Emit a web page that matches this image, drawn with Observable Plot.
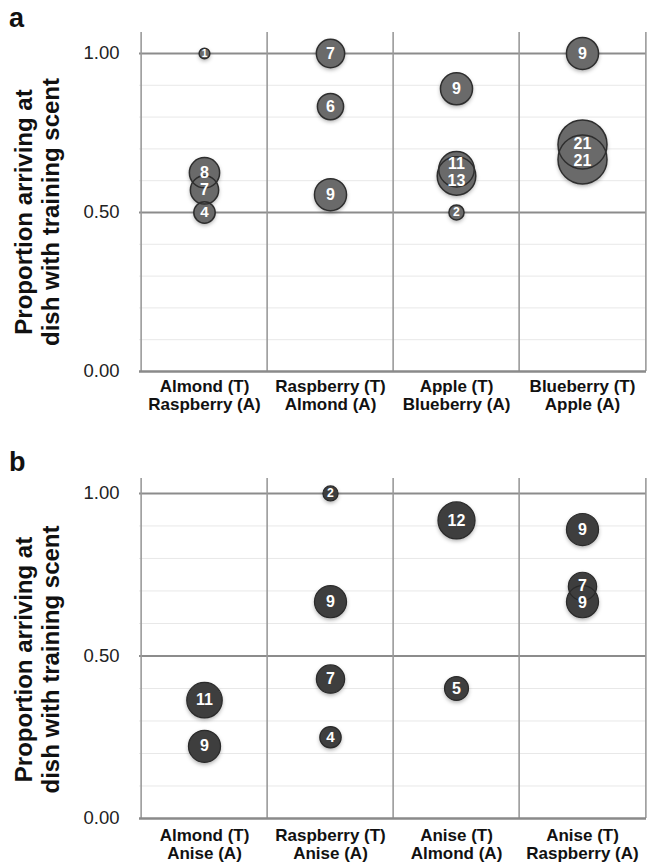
<!DOCTYPE html>
<html>
<head>
<meta charset="utf-8">
<script src="https://cdn.jsdelivr.net/npm/d3@7"></script>
<script src="https://cdn.jsdelivr.net/npm/@observablehq/plot@0.6"></script>
<style>
  html, body { margin: 0; padding: 0; background: #fff; }
  #wrap { position: relative; width: 649px; height: 866px; font-family: "Liberation Sans", Arial, sans-serif; }
  .plabel { position: absolute; font: bold 27px "Liberation Sans", Arial, sans-serif; line-height: 27px; color: #111; }
  .panel { position: absolute; left: 0; }
</style>
</head>
<body>
<div id="wrap">
  <div class="panel" id="pa" style="top:0"></div>
  <div class="panel" id="pb" style="top:425px"></div>
  <div class="plabel" style="left:9px;top:5px">a</div>
  <div class="plabel" style="left:9px;top:449px">b</div>
</div>
<script>
// ---------- data ----------
const yTitle = "Proportion arriving at\ndish with training scent";
const yTicks = [0, 0.5, 1];
const gridMinor = [0.1, 0.2, 0.3, 0.4, 0.6, 0.7, 0.8, 0.9];
const gridMajor = [0.5, 1];

// Panel a
const catsA = ["Almond (T)\nRaspberry (A)", "Raspberry (T)\nAlmond (A)", "Apple (T)\nBlueberry (A)", "Blueberry (T)\nApple (A)"];
const colA  = [0, 0, 0, 0, 1, 1, 1, 2, 2, 2, 2, 3, 3, 3];
const propA = [1.00, 0.625, 0.571, 0.50, 1.00, 0.833, 0.556, 0.889, 0.636, 0.615, 0.50, 1.00, 0.714, 0.667];
const nA    = [1, 8, 7, 4, 7, 6, 9, 9, 11, 13, 2, 9, 21, 21];

// Panel b
const catsB = ["Almond (T)\nAnise (A)", "Raspberry (T)\nAnise (A)", "Anise (T)\nAlmond (A)", "Anise (T)\nRaspberry (A)"];
const colB  = [0, 0, 1, 1, 1, 1, 2, 2, 3, 3, 3];
const propB = [0.364, 0.222, 1.00, 0.667, 0.429, 0.25, 0.917, 0.40, 0.889, 0.714, 0.667];
const nB    = [11, 9, 2, 9, 7, 4, 12, 5, 9, 7, 9];

// ---------- drawing ----------
const W = 649, ML = 139, MR = 3;
const nMax = 21, rMax = 24.5;

function panel({cats, col, prop, n, height, mt, mb, ymax, fill, stroke, strokeWidth, titleDy, tickPad}) {
  const data = prop.map((p, i) => ({cat: cats[col[i]], col: col[i], p, n: n[i]}));
  const rOf = v => rMax * Math.sqrt(v / nMax);
  // label de-overlap (computed in pixel space, converted back to data units)
  const ys = d3.scaleLinear([0, ymax], [height - mb, mt]);
  data.forEach(d => d.py = ys(d.p));
  d3.groups(data, d => d.col).forEach(([, g]) => {
    g.sort((a, b) => a.py - b.py);
    for (let k = 0; k < 4; k++) {
      for (let i = 1; i < g.length; i++) {
        const gap = g[i].py - g[i - 1].py, minGap = 17;
        if (gap < minGap) { const s = (minGap - gap) / 2; g[i - 1].py -= s; g[i].py += s; }
      }
    }
  });
  data.forEach(d => d.pl = ys.invert(d.py));
  const bw = (W - ML - MR) / cats.length;

  const chart = Plot.plot({
    width: W, height,
    marginLeft: ML, marginRight: MR, marginTop: mt, marginBottom: mb,
    style: {fontFamily: "'Liberation Sans', Arial, sans-serif", background: "white", color: "#1a1a1a", overflow: "visible"},
    x: {type: "band", domain: cats, padding: 0},
    y: {domain: [0, ymax]},
    r: {type: "sqrt", domain: [0, nMax], range: [0, rMax]},
    marks: [
      Plot.ruleY(gridMinor, {stroke: "#e8e8e8", strokeWidth: 1}),
      Plot.ruleY(gridMajor, {stroke: "#8c8c8c", strokeWidth: 2}),
      Plot.ruleX(cats, {x: d => d, dx: -bw / 2, stroke: "#9a9a9a", strokeWidth: 1.6}),
      Plot.ruleX([cats[cats.length - 1]], {x: d => d, dx: bw / 2, stroke: "#9a9a9a", strokeWidth: 1.6}),
      Plot.ruleY([0], {stroke: "#8a8a8a", strokeWidth: 2.5}),
      Plot.dot(data, {x: "cat", y: "p", r: "n", fill, stroke: "none"}),
      Plot.dot(data, {x: "cat", y: "p", r: "n", fill: "none", stroke, strokeWidth}),
      Plot.text(data, {x: "cat", y: "pl", text: d => String(d.n), fill: "white", fontWeight: "bold",
        fontSize: d => Math.min(16, 5 + rOf(d.n) * 0.95)}),
      Plot.axisY(yTicks, {tickSize: 0, tickPadding: 20, fontSize: 18.5, tickFormat: d3.format(".2f"), label: null, fill: "#222"}),
      Plot.axisX({tickSize: 0, tickPadding: tickPad, fontSize: 17, fontWeight: "bold", lineHeight: 1.06, label: null, fill: "#111"}),
      Plot.text([yTitle], {frameAnchor: "left", textAnchor: "middle", rotate: -90, dx: -102.5, dy: titleDy, fontSize: 24, fontWeight: "bold",
        lineHeight: 1.125, fill: "#111"})
    ]
  });
  // soft shadow under the circles
  d3.select(chart).selectAll('g[aria-label="dot"]').filter((d, i) => i === 0)
    .style("filter", "drop-shadow(0px 2px 2px rgba(0,0,0,0.35))");
  return chart;
}

document.getElementById("pa").append(panel({
  cats: catsA, col: colA, prop: propA, n: nA,
  height: 425, mt: 32, mb: 54, ymax: 1.066,
  fill: "#6a6a6a", stroke: "#2e2e2e", strokeWidth: 1.5, titleDy: 10, tickPad: 8
}));
document.getElementById("pb").append(panel({
  cats: catsB, col: colB, prop: propB, n: nB,
  height: 441, mt: 53, mb: 48, ymax: 1.046,
  fill: "#3e3e3e", stroke: "#2a2a2a", strokeWidth: 1.2, titleDy: 11, tickPad: 10
}));
</script>
</body>
</html>
